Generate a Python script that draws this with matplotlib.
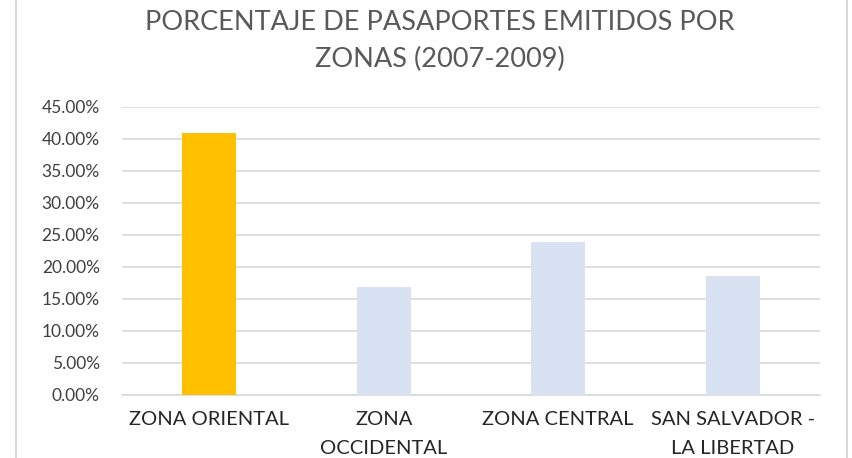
import matplotlib
matplotlib.use("Agg")
import matplotlib.pyplot as plt
from matplotlib.ticker import FuncFormatter
from matplotlib.lines import Line2D

categories = ["ZONA ORIENTAL", "ZONA\nOCCIDENTAL", "ZONA CENTRAL", "SAN SALVADOR -\nLA LIBERTAD"]
values = [40.9, 16.8, 23.8, 18.5]
colors = ["#FFC000", "#D9E2F3", "#D9E2F3", "#D9E2F3"]
yticks = [0, 5, 10, 15, 20, 25, 30, 35, 40, 45]
title = "PORCENTAJE DE PASAPORTES EMITIDOS POR\nZONAS (2007-2009)"

plt.rcParams['font.family'] = ['Lato', 'DejaVu Sans']

fig = plt.figure(figsize=(8.52, 4.58), dpi=100)
ax = fig.add_axes([122/852, 1-394.7/458, (820-122)/852, (394.7-106.7)/458])

x = list(range(len(categories)))
ax.bar(x, values, width=0.31, color=colors, zorder=3)
ax.set_xlim(-0.5, len(categories)-0.5)
ax.set_ylim(0, 45)
ax.set_yticks(yticks)
ax.yaxis.set_major_formatter(FuncFormatter(lambda v, p: f"{v:.2f}%"))
ax.set_xticks(x)
ax.set_xticklabels(categories, fontsize=14.5, color="#262626", linespacing=1.8, va="top")
ax.tick_params(axis='y', length=0, pad=16, labelsize=12.5, labelcolor="#404040")
ax.tick_params(axis='x', length=0, pad=12)
ax.grid(axis='y', color="#D9D9D9", linewidth=1.2, zorder=0)
for s in ["top", "right", "left"]:
    ax.spines[s].set_visible(False)
ax.spines["bottom"].set_color("#D9D9D9")
ax.spines["bottom"].set_linewidth(1.2)

fig.text(440/852, 1-41/458, title, ha="center", va="center", fontsize=19.5,
         color="#595959", linespacing=1.6)

for xp in [16/852, 847/852]:
    fig.add_artist(Line2D([xp, xp], [0, 1], transform=fig.transFigure, color="#D9D9D9", linewidth=1.5))

fig.savefig("out.png", dpi=100, facecolor="white")
